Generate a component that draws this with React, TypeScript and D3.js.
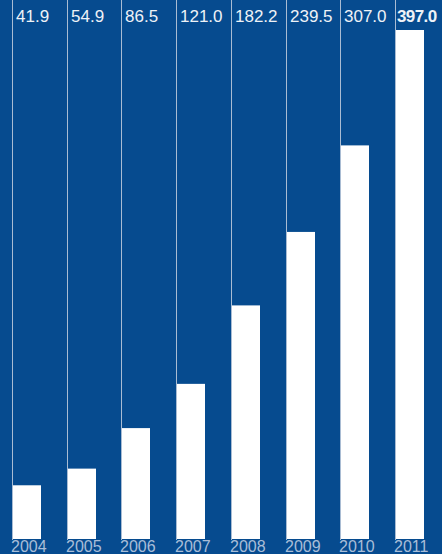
import React from "react";
import * as d3 from "d3";

const years = ["2004", "2005", "2006", "2007", "2008", "2009", "2010", "2011"];
const values = [41.9, 54.9, 86.5, 121.0, 182.2, 239.5, 307.0, 397.0];

export default function App() {
  const W = 442, H = 554;
  const x = d3.scaleBand<string>().domain(years).range([12, 12 + 54.7 * 8]).paddingInner(0).paddingOuter(0);
  const y = d3.scaleLinear().domain([0, 397]).range([539, 30]);
  const barW = 29;
  return (
    <div style={{ position: "fixed", left: 0, top: 0 }}>
      <svg width={W} height={H} style={{ display: "block" }}>
        <rect x={0} y={0} width={W} height={H} fill="#064b8f" />
        {years.map((yr, i) => {
          const x0 = Math.round(x(yr)!);
          const last = i === years.length - 1;
          return (
            <g key={yr}>
              <rect x={x0} y={y(values[i])} width={barW} height={y(0) - y(values[i])} fill="#ffffff" />
              <line x1={x0 + 0.5} x2={x0 + 0.5} y1={0} y2={540} stroke="#a9bcd3" strokeWidth={1} />
              <text x={x0 + (last ? 2 : 4)} y={22} fill="#eef2f7" fontSize={17} letterSpacing={last ? -0.6 : 0} fontFamily="Liberation Sans, Arial, sans-serif" fontWeight={last ? 700 : 400}>
                {values[i].toFixed(1)}
              </text>
              <text x={x0 - 1} y={552} fill="#a8bdd8" fontSize={16} fontFamily="Liberation Sans, Arial, sans-serif">
                {yr}
              </text>
            </g>
          );
        })}
      </svg>
    </div>
  );
}
